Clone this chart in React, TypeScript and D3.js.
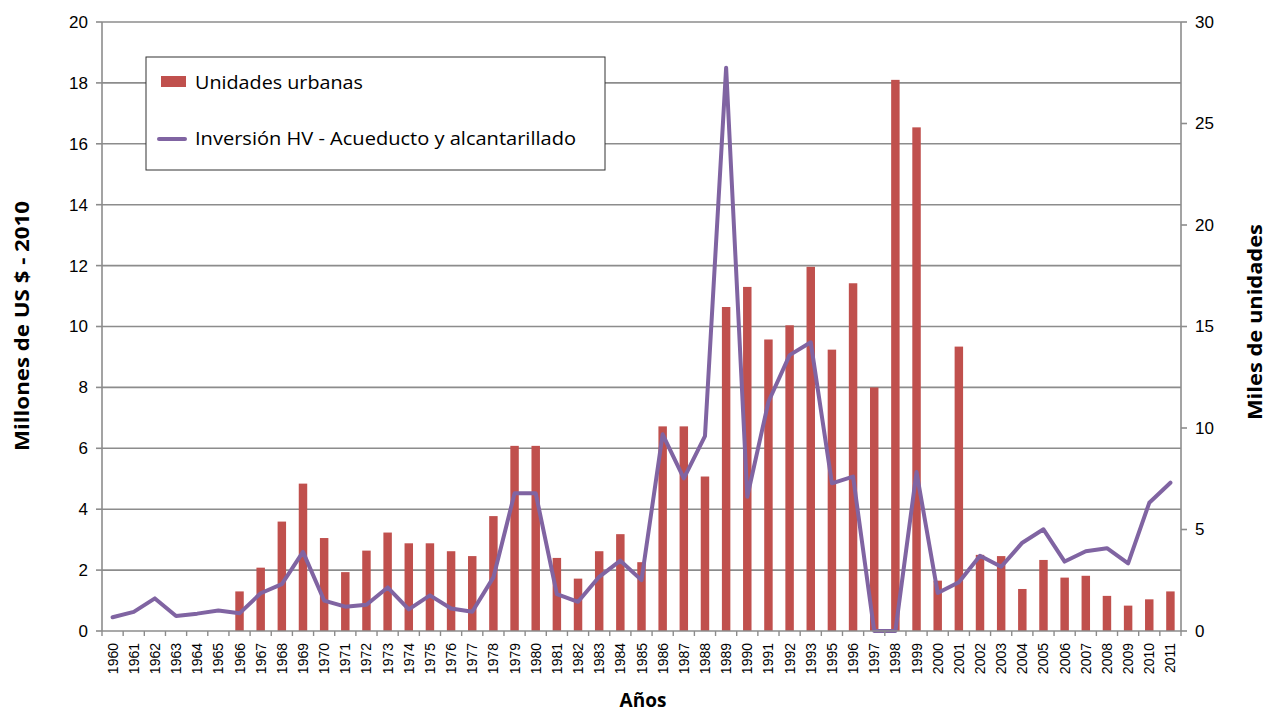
import React from "react";
import * as d3 from "d3";

const years = [
  "1960","1961","1962","1963","1964","1965","1966","1967","1968","1969",
  "1970","1971","1972","1973","1974","1975","1976","1977","1978","1979",
  "1980","1981","1982","1983","1984","1985","1986","1987","1988","1989",
  "1990","1991","1992","1993","1995","1996","1997","1998","1999","2000",
  "2001","2002","2003","2004","2005","2006","2007","2008","2009","2010","2011",
];

// Unidades urbanas (miles de unidades) — right axis
const unidades = [
  0, 0, 0, 0, 0, 0, 1.95, 3.12, 5.39, 7.26,
  4.58, 2.9, 3.96, 4.85, 4.32, 4.32, 3.93, 3.69, 5.66, 9.12,
  9.12, 3.6, 2.58, 3.93, 4.77, 3.39, 10.08, 10.08, 7.61, 15.96,
  16.95, 14.36, 15.06, 17.94, 13.86, 17.13, 12.0, 27.15, 24.81, 2.48,
  14.01, 3.75, 3.69, 2.07, 3.5, 2.63, 2.72, 1.73, 1.25, 1.56, 1.95,
];

// Inversión HV - Acueducto y alcantarillado (millones US$ 2010) — left axis
const inversion = [
  0.45, 0.63, 1.07, 0.49, 0.57, 0.67, 0.58, 1.24, 1.54, 2.6,
  1.0, 0.8, 0.86, 1.43, 0.71, 1.17, 0.74, 0.63, 1.76, 4.52,
  4.52, 1.21, 0.96, 1.78, 2.31, 1.67, 6.46, 5.01, 6.4, 18.5,
  4.41, 7.53, 9.06, 9.48, 4.85, 5.07, 0, 0, 5.22, 1.25,
  1.6, 2.47, 2.11, 2.9, 3.34, 2.28, 2.62, 2.72, 2.22, 4.21, 4.87,
];

const leftTicks = [0, 2, 4, 6, 8, 10, 12, 14, 16, 18, 20];
const rightTicks = [0, 5, 10, 15, 20, 25, 30];

const seriesNames = ["Unidades urbanas", "Inversión HV - Acueducto y alcantarillado"];

const W = 1267;
const H = 713;
const M = { left: 102, right: 1181, top: 22, bottom: 631 };
const BAR = "#C0504D";
const LINE = "#8064A2";
const GRID = "#8c8c8c";
const FONT = "'Liberation Sans', Arial, sans-serif";
const TITLE_FONT = "'Open Sans', 'Liberation Sans', sans-serif";

export default function App() {
  const x = d3.scaleBand<string>().domain(years).range([M.left, M.right]).paddingInner(0).paddingOuter(0);
  const bw = x.bandwidth();
  const barW = bw / 2.5;
  const yL = d3.scaleLinear().domain([0, 20]).range([M.bottom, M.top]);
  const yR = d3.scaleLinear().domain([0, 30]).range([M.bottom, M.top]);

  const line = d3
    .line<number>()
    .x((_, i) => (x(years[i]) as number) + bw / 2)
    .y((d) => yL(d));

  return (
    <svg width={W} height={H} style={{ position: "absolute", left: 0, top: 0, background: "#fff" }}>
      {/* gridlines */}
      {leftTicks.filter((t) => t > 0).map((t) => (
        <line key={"g" + t} x1={M.left} x2={M.right} y1={yL(t)} y2={yL(t)} stroke={GRID} strokeWidth={1.6} />
      ))}
      {/* bars */}
      {unidades.map((v, i) =>
        v > 0 ? (
          <rect
            key={"b" + i}
            x={(x(years[i]) as number) + bw / 2 - barW / 2}
            y={yR(v)}
            width={barW}
            height={yR(0) - yR(v)}
            fill={BAR}
          />
        ) : null
      )}
      {/* line */}
      <path d={line(inversion) || ""} fill="none" stroke={LINE} strokeWidth={4} strokeLinejoin="round" strokeLinecap="round" />
      {/* axes */}
      <line x1={M.left} x2={M.left} y1={M.top} y2={M.bottom} stroke={GRID} strokeWidth={1.6} />
      <line x1={M.right} x2={M.right} y1={M.top} y2={M.bottom} stroke={GRID} strokeWidth={1.6} />
      <line x1={M.left} x2={M.right} y1={M.bottom} y2={M.bottom} stroke={GRID} strokeWidth={1.6} />
      {leftTicks.map((t) => (
        <g key={"lt" + t}>
          <line x1={M.left - 6} x2={M.left} y1={yL(t)} y2={yL(t)} stroke={GRID} strokeWidth={1.6} />
          <text x={M.left - 14} y={yL(t)} dy="0.35em" textAnchor="end" fontFamily={FONT} fontSize={17} fill="#000">
            {t}
          </text>
        </g>
      ))}
      {rightTicks.map((t) => (
        <g key={"rt" + t}>
          <line x1={M.right} x2={M.right + 6} y1={yR(t)} y2={yR(t)} stroke={GRID} strokeWidth={1.6} />
          <text x={M.right + 14} y={yR(t)} dy="0.35em" textAnchor="start" fontFamily={FONT} fontSize={17} fill="#000">
            {t}
          </text>
        </g>
      ))}
      {years.map((yr, i) => (
        <line
          key={"xt" + i}
          x1={x(yr) as number}
          x2={x(yr) as number}
          y1={M.bottom}
          y2={M.bottom + 5}
          stroke={GRID}
          strokeWidth={1.4}
        />
      ))}
      <line x1={M.right} x2={M.right} y1={M.bottom} y2={M.bottom + 5} stroke={GRID} strokeWidth={1.4} />
      {years.map((yr) => {
        const cx = (x(yr) as number) + bw / 2;
        return (
          <text
            key={"xl" + yr}
            transform={`translate(${cx + 5},${M.bottom + 12}) rotate(-90)`}
            textAnchor="end"
            fontFamily={FONT}
            fontSize={14}
            fill="#000"
          >
            {yr}
          </text>
        );
      })}
      {/* axis titles */}
      <text
        transform={`translate(29,326) rotate(-90)`}
        textAnchor="middle"
        fontFamily={TITLE_FONT}
        fontWeight="bold"
        fontSize={19}
        textLength={250}
        lengthAdjust="spacingAndGlyphs"
        fill="#000"
      >
        Millones de US $ - 2010
      </text>
      <text
        transform={`translate(1262,322) rotate(-90)`}
        textAnchor="middle"
        fontFamily={TITLE_FONT}
        fontWeight="bold"
        fontSize={19}
        textLength={196}
        lengthAdjust="spacingAndGlyphs"
        fill="#000"
      >
        Miles de unidades
      </text>
      <text x={643} y={707} textAnchor="middle" fontFamily={TITLE_FONT} fontWeight="bold" fontSize={19} fill="#000">
        Años
      </text>
      {/* legend */}
      <rect x={146} y={57} width={459} height={113} fill="#fff" stroke="#333" strokeWidth={1} />
      <rect x={161} y={76} width={25} height={11} fill={BAR} />
      <text x={195} y={89} fontFamily={TITLE_FONT} fontSize={18} fill="#000" textLength={168} lengthAdjust="spacingAndGlyphs">
        {seriesNames[0]}
      </text>
      <line x1={159} x2={185} y1={139} y2={139} stroke={LINE} strokeWidth={4} strokeLinecap="round" />
      <text x={195} y={145} fontFamily={TITLE_FONT} fontSize={18} fill="#000" textLength={381} lengthAdjust="spacingAndGlyphs">
        {seriesNames[1]}
      </text>
    </svg>
  );
}
